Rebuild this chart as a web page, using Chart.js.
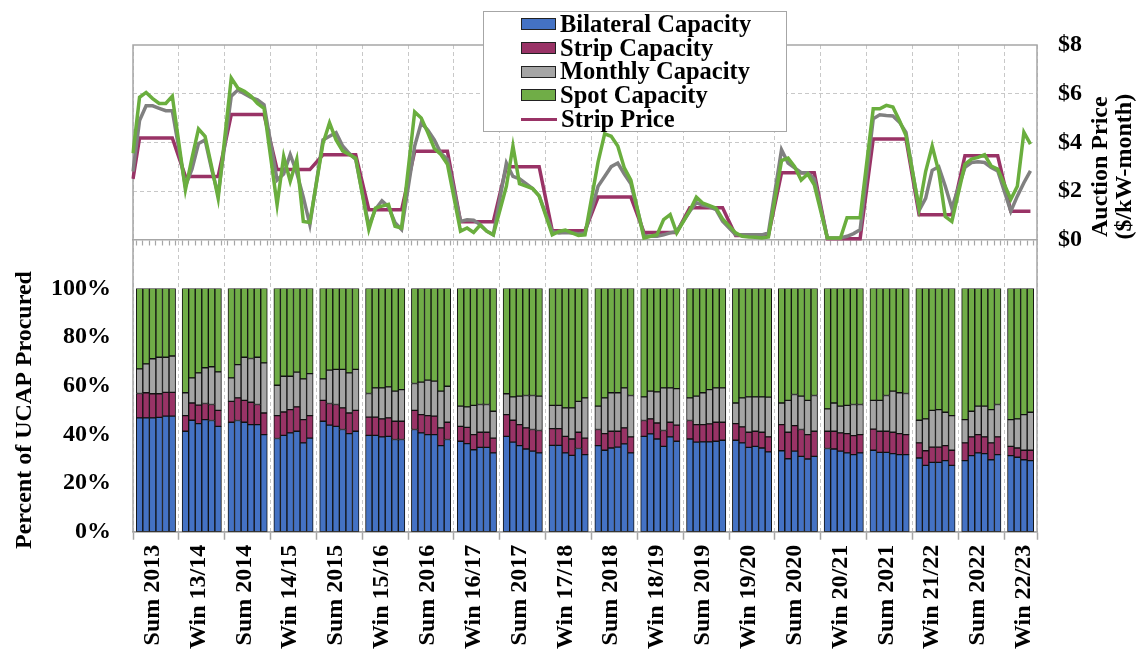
<!DOCTYPE html>
<html>
<head>
<meta charset="utf-8">
<script src="https://cdn.jsdelivr.net/npm/chart.js@4.4.1/dist/chart.umd.min.js"></script>
<style>
  body { margin: 0; background: #fff; }
  #wrap { position: relative; width: 1141px; height: 656px; }
  #legend {
    position: absolute; left: 483px; top: 11px; width: 304px; height: 121px;
    box-sizing: border-box; border: 1.5px solid #a6a6a6; background: #fff;
    padding: 0 0 0 37px;
    font: bold 24.5px 'Liberation Serif', 'Times New Roman', serif; line-height: 23.7px; color: #000;
  }
  #legend .row { white-space: nowrap; }
  #legend .box { display: inline-block; width: 33px; height: 10px; border: 1.5px solid #222; vertical-align: middle; margin: -4px 4px 0 0; }
  #legend .line { display: inline-block; width: 36px; height: 3px; vertical-align: middle; margin: -4px 4px 0 0; }
</style>
</head>
<body>
<div id="wrap">
  <canvas id="chart" width="1141" height="656"></canvas>
  <div id="legend"></div>
</div>
<script>
// Temporadas (grupos de barras) y meses por temporada
const seasons = ["Sum 2013", "Win 13/14", "Sum 2014", "Win 14/15", "Sum 2015", "Win 15/16",
  "Sum 2016", "Win 16/17", "Sum 2017", "Win 17/18", "Sum 2018", "Win 18/19", "Sum 2019",
  "Win 19/20", "Sum 2020", "Win 20/21", "Sum 2021", "Win 21/22", "Sum 2022", "Win 22/23"];
const seasonMonths = [6, 6, 6, 6, 6, 6, 6, 6, 6, 6, 6, 6, 6, 6, 6, 6, 6, 6, 6, 4];
const summerMonths = ["May", "Jun", "Jul", "Aug", "Sep", "Oct"];
const winterMonths = ["Nov", "Dec", "Jan", "Feb", "Mar", "Apr"];

// Porcentaje de UCAP por mes
const bilateral = [
  46.8, 46.8, 46.8, 47.0, 47.5, 47.5,  41.3, 45.8, 44.4, 46.1, 45.7, 43.3,
  45.0, 45.7, 45.0, 44.0, 44.0, 39.9,  38.3, 39.6, 40.6, 41.3, 36.5, 38.5,
  45.4, 43.8, 43.3, 42.0, 40.3, 41.3,  39.6, 39.6, 39.0, 39.2, 37.9, 37.9,
  42.0, 40.6, 39.9, 39.9, 35.4, 37.9,  37.2, 36.2, 33.7, 34.7, 34.7, 32.4,
  39.2, 36.8, 35.4, 34.0, 33.1, 32.4,  35.5, 35.5, 32.4, 31.4, 34.2, 31.7,
  35.4, 33.5, 34.4, 34.8, 36.1, 32.4,  39.2, 40.2, 38.1, 35.1, 39.0, 37.2,
  38.1, 36.8, 36.9, 36.9, 37.2, 37.6,  37.6, 36.5, 34.7, 35.1, 34.4, 32.8,
  33.3, 30.0, 33.1, 31.0, 29.9, 31.0,  34.2, 34.0, 33.1, 32.4, 31.7, 32.4,
  33.5, 32.6, 32.6, 32.1, 31.7, 31.7,  30.3, 27.3, 28.5, 28.5, 29.2, 27.3,
  29.2, 31.3, 32.4, 32.1, 29.6, 31.7,  31.3, 30.6, 29.6, 29.2];
const strip = [
  10.0, 10.3, 9.9, 9.7, 9.8, 9.8,  6.4, 7.1, 7.6, 6.6, 6.6, 6.6,
  8.6, 9.3, 9.0, 9.2, 8.3, 8.9,  9.4, 9.6, 9.6, 10.0, 9.6, 9.2,
  8.6, 8.9, 9.0, 8.9, 8.5, 8.6,  7.5, 7.5, 7.4, 7.6, 7.5, 7.5,
  7.9, 7.5, 7.8, 7.6, 7.3, 7.1,  6.1, 6.7, 6.2, 6.2, 6.2, 6.1,
  8.9, 9.0, 8.6, 8.7, 8.9, 9.2,  6.9, 6.9, 6.8, 6.7, 6.7, 6.8,
  6.6, 6.8, 6.9, 6.5, 6.6, 6.6,  6.5, 6.2, 6.6, 6.5, 6.0, 6.6,
  7.6, 7.2, 7.1, 7.4, 7.8, 7.4,  6.8, 6.6, 6.2, 6.2, 6.5, 6.2,
  10.7, 10.9, 10.5, 11.0, 10.0, 10.3,  7.1, 7.3, 7.5, 7.9, 7.8, 7.5,
  8.7, 8.7, 8.7, 8.8, 8.6, 8.2,  6.2, 6.0, 6.3, 6.3, 6.2, 6.2,
  7.3, 7.7, 7.5, 6.9, 6.9, 7.3,  3.8, 3.8, 3.9, 4.3];
const monthly = [
  10.1, 11.9, 14.4, 15.0, 14.4, 14.9,  9.4, 10.3, 13.3, 14.7, 15.5, 15.8,
  9.6, 13.7, 17.7, 18.0, 19.4, 20.6,  12.5, 14.7, 13.7, 14.3, 16.7, 17.3,
  8.8, 13.7, 14.4, 15.8, 16.5, 16.8,  9.7, 12.0, 12.7, 12.7, 12.4, 13.0,
  11.0, 13.4, 14.6, 14.4, 15.1, 14.8,  8.3, 8.4, 12.0, 11.4, 11.4, 11.0,
  8.6, 9.6, 11.7, 13.3, 14.0, 14.1,  9.5, 9.5, 11.7, 12.8, 12.7, 16.5,
  9.6, 14.7, 15.8, 15.8, 16.4, 17.0,  9.7, 11.4, 12.8, 17.5, 14.1, 15.0,
  9.3, 11.7, 13.1, 14.1, 14.1, 14.1,  8.5, 11.9, 14.5, 14.1, 14.5, 16.3,
  8.9, 13.1, 12.8, 13.7, 14.1, 14.7,  9.2, 11.6, 11.0, 11.6, 12.8, 12.4,
  11.8, 12.7, 14.7, 16.9, 16.8, 16.9,  9.3, 13.1, 15.1, 15.4, 13.7, 14.2,
  9.6, 10.5, 11.7, 12.6, 13.7, 13.3,  11.0, 12.0, 14.6, 15.6];
const spot = [
  33.1, 31.0, 28.9, 28.3, 28.3, 27.8,  42.9, 36.8, 34.7, 32.6, 32.2, 34.3,
  36.8, 31.3, 28.3, 28.8, 28.3, 30.6,  39.8, 36.1, 36.1, 34.4, 37.2, 35.0,
  37.2, 33.6, 33.3, 33.3, 34.7, 33.3,  43.2, 40.9, 40.9, 40.5, 42.2, 41.6,
  39.1, 38.5, 37.7, 38.1, 42.2, 40.2,  48.4, 48.7, 48.1, 47.7, 47.7, 50.5,
  43.3, 44.6, 44.3, 44.0, 44.0, 44.3,  48.1, 48.1, 49.1, 49.1, 46.4, 45.0,
  48.4, 45.0, 42.9, 42.9, 40.9, 44.0,  44.6, 42.2, 42.5, 40.9, 40.9, 41.2,
  45.0, 44.3, 42.9, 41.6, 40.9, 40.9,  47.1, 45.0, 44.6, 44.6, 44.6, 44.7,
  47.1, 46.0, 43.6, 44.3, 46.0, 44.0,  49.5, 47.1, 48.4, 48.1, 47.7, 47.7,
  46.0, 46.0, 44.0, 42.2, 42.9, 43.2,  54.2, 53.6, 50.1, 49.8, 50.9, 52.3,
  53.9, 50.5, 48.4, 48.4, 49.8, 47.7,  53.9, 53.6, 51.9, 50.9];

// Precios de subasta ($/kW-mes); el primer valor es abril 2013
const stripPriceStart = 2.5;
const stripPrice = [4.18, 2.6, 5.14, 2.88, 3.49, 1.23, 3.63, 0.74, 3.0, 0.37,
  1.75, 0.3, 1.31, 0.17, 2.75, 0.04, 4.14, 1.03, 3.45, 1.17];
const monthlyPrice = [2.8,
  4.9, 5.5, 5.5, 5.4, 5.3, 5.3,  2.2, 2.9, 3.95, 4.1, 2.9, 1.85,
  5.9, 6.15, 6.0, 5.85, 5.75, 5.55,  2.45, 2.7, 3.5, 2.75, 1.75, 0.62,
  4.1, 4.25, 4.4, 3.85, 3.55, 3.3,  0.55, 1.25, 1.6, 1.35, 0.7, 0.42,
  3.85, 4.8, 4.5, 4.1, 3.55, 3.3,  0.75, 0.82, 0.8, 0.62, 0.35, 0.2,
  3.15, 2.6, 2.5, 2.3, 2.1, 1.8,  0.34, 0.28, 0.3, 0.28, 0.25, 0.28,
  2.2, 2.6, 3.0, 3.15, 2.7, 2.3,  0.17, 0.14, 0.14, 0.2, 0.28, 0.34,
  1.17, 1.52, 1.41, 1.35, 1.24, 0.76,  0.2, 0.2, 0.2, 0.2, 0.2, 0.28,
  3.7, 3.15, 2.95, 2.75, 2.75, 2.5,  0.07, 0.07, 0.07, 0.14, 0.25, 0.41,
  4.97, 5.13, 5.1, 5.08, 4.83, 4.41,  1.2, 1.7, 2.85, 3.0, 2.2, 1.3,
  2.97, 3.17, 3.2, 3.17, 2.97, 2.83,  1.17, 1.79, 2.34, 2.83];
const spotPrice = [3.55,
  5.85, 6.05, 5.8, 5.6, 5.6, 5.9,  2.05, 3.35, 4.55, 4.25, 3.0, 1.7,
  6.64, 6.23, 6.1, 5.9, 5.6, 5.4,  1.44, 3.42, 2.4, 3.3, 0.75, 0.71,
  3.95, 4.8, 4.1, 3.65, 3.5, 3.35,  0.42, 1.3, 1.38, 1.45, 0.55, 0.48,
  5.25, 5.0, 4.4, 3.75, 3.5, 3.1,  0.35, 0.48, 0.3, 0.6, 0.35, 0.2,
  2.2, 3.85, 2.3, 2.2, 2.1, 1.8,  0.2, 0.34, 0.4, 0.28, 0.17, 0.2,
  3.2, 4.35, 4.25, 3.85, 2.95, 2.45,  0.07, 0.14, 0.2, 0.83, 1.03, 0.28,
  1.2, 1.75, 1.5, 1.4, 1.3, 0.85,  0.28, 0.14, 0.11, 0.1, 0.07, 0.11,
  3.25, 3.35, 3.0, 2.45, 2.7, 2.25,  0.07, 0.07, 0.07, 0.9, 0.9, 0.9,
  5.38, 5.38, 5.52, 5.45, 4.9, 4.28,  1.3, 2.8, 3.85, 2.8, 0.95, 0.75,
  3.1, 3.31, 3.38, 3.49, 3.03, 2.9,  1.66, 2.2, 4.41, 3.93];

const priceTitle = ["Auction Price", "($/kW-month)"];
const FONT = "'Liberation Serif', 'Times New Roman', serif";

// Construimos el eje: un hueco entre temporadas y una posición por mes
const labels = ["Apr 2013"];
const isGap = [true];
const seasonAt = {};
const cols = { bil: [null], str: [null], mon: [null], spo: [null],
  pStrip: [stripPriceStart], pMon: [monthlyPrice[0]], pSpot: [spotPrice[0]] };
let k = 0;
seasons.forEach((s, g) => {
  const names = s.startsWith("Sum") ? summerMonths : winterMonths;
  seasonAt[labels.length + 2] = s;
  for (let m = 0; m < seasonMonths[g]; m++) {
    labels.push(s + " " + names[m]);
    isGap.push(false);
    cols.bil.push(bilateral[k]);
    cols.str.push(strip[k]);
    cols.mon.push(monthly[k]);
    cols.spo.push(spot[k]);
    cols.pStrip.push(stripPrice[g]);
    cols.pMon.push(monthlyPrice[k + 1]);
    cols.pSpot.push(spotPrice[k + 1]);
    k++;
  }
  labels.push("");
  isGap.push(true);
  Object.keys(cols).forEach((c) => cols[c].push(null));
});

const colors = { blue: "#4472C4", magenta: "#993366", gray: "#A5A5A5", green: "#70AD47",
  grayLine: "#808080", greenLine: "#6AAE3E", frame: "#A6A6A6", grid: "#C8C8C8" };

function bar(label, data, color) {
  return { type: "bar", label, data, backgroundColor: color, borderColor: "#111",
    borderWidth: 1, borderSkipped: false, xAxisID: "x", yAxisID: "y", stack: "cap",
    barPercentage: 1, categoryPercentage: 1, legendShape: "box" };
}
function line(label, data, color, width) {
  return { type: "line", label, data, borderColor: color, backgroundColor: color,
    borderWidth: width, pointRadius: 0, spanGaps: true, tension: 0,
    xAxisID: "x", yAxisID: "y2", legendShape: "line" };
}

// Marco del área del gráfico y título del eje de precios
const framePlugin = {
  id: "frame",
  beforeDatasetsDraw(chart) {
    const { ctx, chartArea: a } = chart;
    ctx.save();
    ctx.strokeStyle = colors.frame;
    ctx.lineWidth = 1.5;
    ctx.strokeRect(a.left, a.top, a.width, a.height);
    ctx.restore();
  },
  afterDraw(chart) {
    const s = chart.scales.y2;
    const ctx = chart.ctx;
    ctx.save();
    ctx.font = "bold 24px " + FONT;
    ctx.fillStyle = "#000";
    ctx.textAlign = "center";
    ctx.textBaseline = "middle";
    priceTitle.forEach((t, i) => {
      ctx.save();
      ctx.translate(chart.chartArea.right + 64 + i * 24, (s.top + s.bottom) / 2);
      ctx.rotate(-Math.PI / 2);
      ctx.fillText(t, 0, 0);
      ctx.restore();
    });
    ctx.restore();
  }
};

Chart.defaults.font.family = FONT;
Chart.defaults.font.weight = "bold";
Chart.defaults.font.size = 24;
Chart.defaults.color = "#000";

const hidden = { display: true, ticks: { display: false }, grid: { display: false, drawTicks: false }, border: { display: false } };

const chart = new Chart(document.getElementById("chart"), {
  type: "bar",
  data: {
    labels: labels,
    datasets: [
      line("Spot Price", cols.pSpot, colors.greenLine, 3.5),
      line("Monthly Price", cols.pMon, colors.grayLine, 3.5),
      line("Strip Price", cols.pStrip, colors.magenta, 3.5),
      bar("Bilateral Capacity", cols.bil, colors.blue),
      bar("Strip Capacity", cols.str, colors.magenta),
      bar("Monthly Capacity", cols.mon, colors.gray),
      bar("Spot Capacity", cols.spo, colors.green)
    ]
  },
  options: {
    responsive: false,
    animation: false,
    devicePixelRatio: 1,
    layout: { padding: { top: 45, right: 38, bottom: 2, left: 0 } },
    plugins: { legend: { display: false }, tooltip: { enabled: false } },
    scales: {
      x: {
        type: "category", offset: false, stacked: true,
        grid: {
          offset: false, lineWidth: 1, tickLength: 8, tickWidth: 1.5,
          color: (c) => (isGap[c.index] ? colors.grid : "transparent"),
          tickColor: (c) => (isGap[c.index] ? colors.frame : "transparent")
        },
        border: { color: colors.frame, width: 1.5, dash: [4, 3] },
        ticks: { autoSkip: false, minRotation: 90, maxRotation: 90, padding: 5,
          callback: (v, i) => seasonAt[i] || "" }
      },
      y: {
        type: "linear", position: "left", stack: "left", stackWeight: 1, stacked: true,
        min: 0, max: 100,
        afterFit: (s) => { s.width = 133; },
        ticks: { stepSize: 20, padding: 22, autoSkip: false, callback: (v) => v + "%" },
        grid: { display: false, drawTicks: false },
        border: { display: false },
        title: { display: true, text: "Percent of UCAP Procured", padding: { top: 10, bottom: 6 } }
      },
      yL: Object.assign({ type: "linear", position: "left", stack: "left", stackWeight: 1 }, hidden),
      y2: {
        type: "linear", position: "right", stack: "right", stackWeight: 1,
        min: -2, max: 8,
        ticks: { stepSize: 2, padding: 21, autoSkip: false, callback: (v) => (v >= 0 ? "$" + v : "") },
        grid: { drawTicks: false, color: (c) => (c.tick.value > 0 && c.tick.value < 8 ? colors.grid : "transparent") },
        border: { display: false, dash: [4, 3] }
      },
      yR: Object.assign({ type: "linear", position: "right", stack: "right", stackWeight: 1 }, hidden),
      xm: {
        type: "category", position: { y2: 0 }, offset: false,
        ticks: { display: false, autoSkip: false },
        grid: { drawOnChartArea: false, tickLength: 5, tickWidth: 1.2, tickColor: colors.frame },
        border: { color: colors.frame, width: 1.5 }
      }
    }
  },
  plugins: [framePlugin]
});

// Leyenda en HTML, en el orden del original
const legendOrder = ["Bilateral Capacity", "Strip Capacity", "Monthly Capacity", "Spot Capacity", "Strip Price"];
const legendEl = document.getElementById("legend");
legendOrder.forEach((name) => {
  const ds = chart.data.datasets.find((d) => d.label === name);
  const row = document.createElement("div");
  row.className = "row";
  const sw = document.createElement("span");
  sw.className = ds.legendShape;
  sw.style.background = ds.legendShape === "box" ? ds.backgroundColor : ds.borderColor;
  row.appendChild(sw);
  row.appendChild(document.createTextNode(name));
  legendEl.appendChild(row);
});
</script>
</body>
</html>
